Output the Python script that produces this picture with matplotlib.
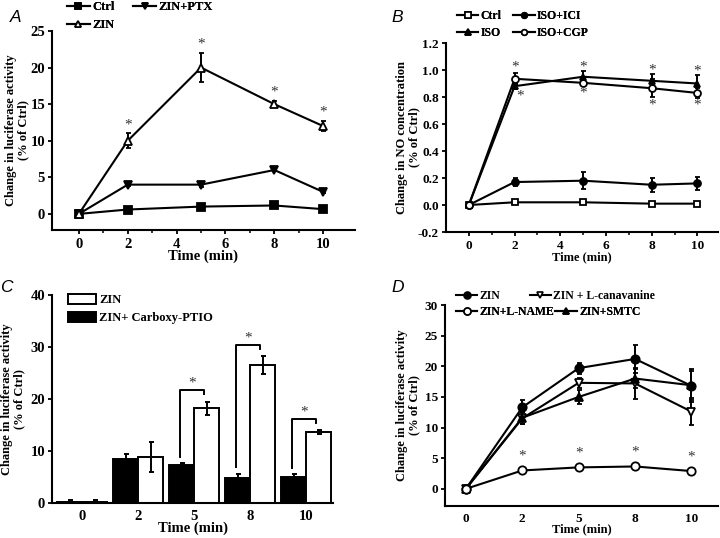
import numpy as np
import matplotlib
matplotlib.use('Agg')
import matplotlib.pyplot as plt
from matplotlib.patches import Patch
from matplotlib.lines import Line2D

# ── data ─────────────────────────────────────────────────────────────────────
# Panel A: luciferase activity, time in min
a_time = [0, 2, 5, 8, 10]
a_ctrl = [0, 0.6, 1.0, 1.15, 0.65]
a_ctrl_err = [0, 0.1, 0.1, 0.1, 0.1]
a_zin = [0, 10.0, 20.0, 15.0, 12.0]
a_zin_err = [0, 1.0, 2.0, 0.4, 0.7]
a_ptx = [0, 4.0, 4.0, 6.0, 3.0]
a_ptx_err = [0, 0.2, 0.3, 0.2, 0.2]

# Panel B: NO concentration
b_time = [0, 2, 5, 8, 10]
b_ctrl = [0, 0.02, 0.02, 0.01, 0.01]
b_iso = [0, 0.88, 0.95, 0.92, 0.90]
b_iso_err = [0, 0.02, 0.04, 0.05, 0.06]
b_ici = [0, 0.17, 0.18, 0.15, 0.16]
b_ici_err = [0, 0.03, 0.065, 0.05, 0.05]
b_cgp = [0, 0.935, 0.905, 0.865, 0.83]
b_cgp_err = [0, 0.04, 0.02, 0.065, 0.04]
b_star_hi = [1.02, 1.025, 1.0, 0.99]
b_star_lo = [0.81, 0.83, 0.74, 0.74]

# Panel C: bars
c_labels = ['0', '2', '5', '8', '10']
c_zin = [0.1, 8.9, 18.2, 26.5, 13.6]
c_zin_err = [0.4, 2.9, 1.3, 1.7, 0.4]
c_ptio = [0.2, 8.5, 7.4, 4.85, 5.0]
c_ptio_err = [0.4, 0.9, 0.3, 0.8, 0.6]
c_sig = [2, 3, 4]

# Panel D
d_labels = ['0', '2', '5', '8', '10']
d_zin = [0, 13.3, 19.7, 21.2, 16.8]
d_zin_err = [0, 1.2, 0.9, 2.3, 2.7]
d_cana = [0, 11.5, 17.3, 17.2, 12.6]
d_cana_err = [0, 1.0, 0.8, 2.6, 2.2]
d_name = [0, 3.0, 3.5, 3.65, 2.9]
d_name_err = [0, 0.5, 0.3, 0.4, 0.3]
d_smtc = [0, 11.6, 15.0, 18.0, 16.9]
d_smtc_err = [0, 1.0, 1.2, 1.5, 2.4]

# ── style ────────────────────────────────────────────────────────────────────
plt.rcParams['font.family'] = ['Liberation Serif', 'DejaVu Serif']
plt.rcParams['font.weight'] = 'bold'
plt.rcParams['axes.labelweight'] = 'bold'
plt.rcParams['axes.linewidth'] = 1.5
plt.rcParams['xtick.major.width'] = 1.3
plt.rcParams['ytick.major.width'] = 1.3
plt.rcParams['xtick.minor.width'] = 1.1
plt.rcParams['xtick.major.size'] = 3
plt.rcParams['ytick.major.size'] = 3
plt.rcParams['xtick.minor.size'] = 2
plt.rcParams['xtick.major.pad'] = 3
plt.rcParams['ytick.major.pad'] = 2

fig = plt.figure(figsize=(7.2, 5.38), dpi=100)
W, H = 720, 538


def add_ax(l, r, t, b):
    return fig.add_axes([l / W, 1 - b / H, (r - l) / W, (b - t) / H])


def finish(ax, fs, xlab_fs, ylab, ylab_x):
    ax.spines['top'].set_visible(False)
    ax.spines['right'].set_visible(False)
    ax.tick_params(direction='out', labelsize=fs)
    for lb in ax.get_xticklabels() + ax.get_yticklabels():
        lb.set_fontweight('bold')
    ax.set_xlabel('Time (min)', fontsize=xlab_fs, labelpad=-1)
    ax.set_ylabel(ylab, fontsize=9, linespacing=1.0)
    ax.yaxis.set_label_coords(ylab_x, 0.5)


LW = 1.5
MS = 5.5


def line(ax, x, y, err, marker, filled, ms=MS):
    mfc = 'black' if filled else 'white'
    ax.errorbar(x, y, yerr=err, marker=marker, mfc=mfc, mec='black', mew=1.3,
                color='black', lw=LW, capsize=1.8, elinewidth=1.4, capthick=1.4, ms=ms)


def handle(marker, filled, label, ms=4.5):
    return Line2D([], [], color='black', lw=LW, marker=marker, ms=ms, mew=1.2,
                  mfc='black' if filled else 'white', mec='black', label=label)


def stars(ax, xs, ys):
    for x, y in zip(xs, ys):
        ax.text(x, y, '*', ha='center', va='center', fontsize=11,
                fontweight='normal', color='#333333')


def leg(ax, handles, anchor, loc='lower left', fs=8.5, ncol=2, colsp=1.0):
    lg = ax.legend(handles=handles, loc=loc, bbox_to_anchor=anchor, frameon=False,
                   ncol=ncol, handlelength=1.8, handletextpad=0.2, columnspacing=colsp,
                   labelspacing=0.45, borderpad=0, borderaxespad=0,
                   prop={'weight': 'bold', 'size': fs})
    ax.add_artist(lg)
    return lg


def panel_letter(x, y, s):
    fig.text(x / W, 1 - y / H, s, fontsize=12.5, style='italic', fontweight='normal',
             family='Liberation Sans', ha='left', va='center')


# ── Panel A ──────────────────────────────────────────────────────────────────
axA = add_ax(52, 355, 31, 230)
line(axA, a_time, a_ctrl, a_ctrl_err, 's', True)
line(axA, a_time, a_ptx, a_ptx_err, 'v', True, ms=6)
line(axA, a_time, a_zin, a_zin_err, '^', False, ms=6)
stars(axA, a_time[1:], [z + e + 1.2 for z, e in zip(a_zin[1:], a_zin_err[1:])])
axA.set_xlim(-1.1, 11.3)
axA.set_ylim(-2.2, 25)
axA.set_xticks([0, 2, 4, 6, 8, 10])
axA.set_xticks(np.arange(1, 11, 2), minor=True)
axA.set_yticks([0, 5, 10, 15, 20, 25])
finish(axA, 10.5, 10.5, 'Change in luciferase activity\n(% of Ctrl)', -0.076)
leg(axA, [handle('s', True, 'Ctrl'), handle('^', False, 'ZIN'),
          handle('v', True, 'ZIN+PTX')], (0.05, 1.0), fs=9, colsp=1.5)
panel_letter(10, 18, 'A')

# ── Panel B ──────────────────────────────────────────────────────────────────
axB = add_ax(446, 718, 43, 232)
line(axB, b_time, b_ctrl, None, 's', False, ms=4.5)
line(axB, b_time, b_ici, b_ici_err, 'o', True, ms=5)
line(axB, b_time, b_iso, b_iso_err, '^', True, ms=5)
line(axB, b_time, b_cgp, b_cgp_err, 'o', False, ms=5)
stars(axB, b_time[1:], b_star_hi)
stars(axB, [t + (0.25 if t == 2 else 0) for t in b_time[1:]], b_star_lo)
axB.set_xlim(-1.0, 10.9)
axB.set_ylim(-0.2, 1.2)
axB.set_xticks([0, 2, 4, 6, 8, 10])
axB.set_xticks(np.arange(1, 11, 2), minor=True)
b_yt = np.round(np.arange(-0.2, 1.21, 0.2), 1)
axB.set_yticks(b_yt)
axB.set_yticklabels(['%.1f' % v for v in b_yt])
finish(axB, 9.5, 9, 'Change in NO concentration\n(% of Ctrl)', -0.095)
leg(axB, [handle('s', False, 'Ctrl', 4), handle('^', True, 'ISO', 4),
          handle('o', True, 'ISO+ICI', 4), handle('o', False, 'ISO+CGP', 4)],
    (0.04, 1.02), colsp=1.0)
panel_letter(391, 18, 'B')

# ── Panel C ──────────────────────────────────────────────────────────────────
axC = add_ax(52, 333, 295, 503)
xc = np.arange(len(c_labels))
bw = 0.45
ekw = dict(elinewidth=1.4, capsize=1.8, capthick=1.4)
axC.bar(xc - bw / 2, c_ptio, bw, yerr=c_ptio_err, color='black', edgecolor='black',
        lw=1.4, error_kw=ekw)
axC.bar(xc + bw / 2, c_zin, bw, yerr=c_zin_err, color='white', edgecolor='black',
        lw=1.4, error_kw=ekw)
# significance brackets
for i in c_sig:
    xl, xr = i - 0.25, i + 0.17
    top = c_zin[i] + c_zin_err[i] + 2.2
    yl = c_ptio[i] + c_ptio_err[i] + 1.2
    yr = top - 0.8
    axC.plot([xl, xl, xr, xr], [yl, top, top, yr], color='black', lw=1.4)
    axC.text((xl + xr) / 2, top + 1.3, '*', ha='center', va='center', fontsize=11,
             fontweight='normal', color='#333333')
axC.set_xlim(-0.54, 4.48)
axC.set_ylim(0, 40)
axC.set_xticks(xc)
axC.set_xticklabels(c_labels)
axC.set_yticks([0, 10, 20, 30, 40])
finish(axC, 10.5, 10.5, 'Change in luciferase activity\n(% of Ctrl)', -0.096)
axC.tick_params(axis='x', length=0, pad=5)
axC.legend(handles=[Patch(facecolor='white', edgecolor='black', lw=1.4, label='ZIN'),
                    Patch(facecolor='black', edgecolor='black', lw=1.4,
                          label='ZIN+ Carboxy-PTIO')],
           loc='upper left', bbox_to_anchor=(0.058, 1.005), frameon=False,
           handlelength=2.2, handleheight=0.85, handletextpad=0.25, labelspacing=0.45,
           borderpad=0, borderaxespad=0, prop={'weight': 'bold', 'size': 9})
panel_letter(0, 287, 'C')

# ── Panel D ──────────────────────────────────────────────────────────────────
axD = add_ax(445, 718, 305, 506)
xd = np.arange(len(d_labels))
line(axD, xd, d_zin, d_zin_err, 'o', True, ms=6)
line(axD, xd, d_cana, d_cana_err, 'v', False, ms=6)
line(axD, xd, d_smtc, d_smtc_err, '^', True, ms=6)
line(axD, xd, d_name, d_name_err, 'o', False, ms=6)
stars(axD, xd[1:], [v + 2.3 for v in d_name[1:]])
axD.set_xlim(-0.37, 4.47)
axD.set_ylim(-2.8, 30)
axD.set_xticks(xd)
axD.set_xticklabels(d_labels)
axD.set_yticks([0, 5, 10, 15, 20, 25, 30])
finish(axD, 9.5, 9, 'Change in luciferase activity\n(% of Ctrl)', -0.092)
axD.tick_params(axis='x', length=0, pad=5)
leg(axD, [handle('o', True, 'ZIN', 5), handle('v', False, 'ZIN + L-canavanine', 5)],
    (0.04, 1.045), loc='center left', fs=8.5, colsp=2.5)
leg(axD, [handle('o', False, 'ZIN+L-NAME', 5), handle('^', True, 'ZIN+SMTC', 5)],
    (0.04, 0.965), loc='center left', fs=8.5, colsp=0.1)
panel_letter(391, 287, 'D')

fig.savefig('out.png', dpi=100)
